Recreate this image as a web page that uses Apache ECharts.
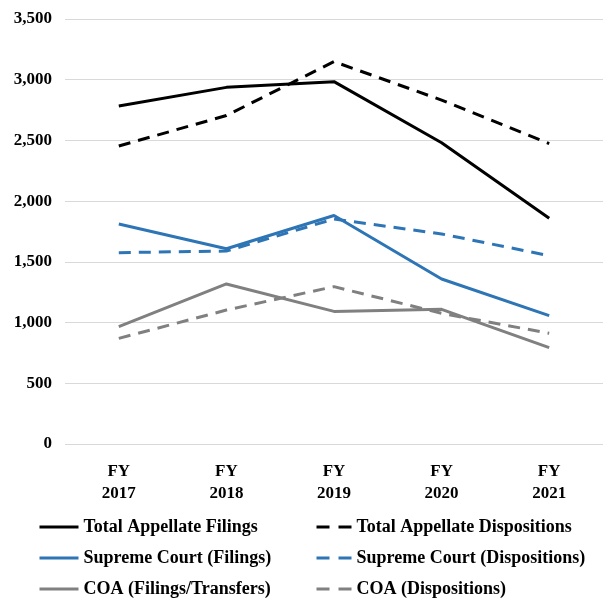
<!DOCTYPE html>
<html>
<head>
<meta charset="utf-8">
<script src="https://cdn.jsdelivr.net/npm/echarts@6/dist/echarts.min.js"></script>
<style>
  html, body { margin: 0; padding: 0; background: #fff; }
  #chart { width: 603px; height: 599px; }
</style>
</head>
<body>
<div id="chart"></div>
<script>
// categories and values
var years = ['FY\n2017', 'FY\n2018', 'FY\n2019', 'FY\n2020', 'FY\n2021'];
var totalFilings = [2783, 2937, 2984, 2481, 1859];
var totalDispositions = [2454, 2705, 3149, 2832, 2474];
var supremeFilings = [1812, 1608, 1882, 1359, 1057];
var supremeDispositions = [1576, 1589, 1853, 1730, 1551];
var coaFilings = [966, 1318, 1092, 1109, 793];
var coaDispositions = [870, 1103, 1296, 1076, 912];

var filingNames = ['Total Appellate Filings', 'Supreme Court (Filings)', 'COA (Filings/Transfers)'];
var dispositionNames = ['Total Appellate Dispositions', 'Supreme Court (Dispositions)', 'COA (Dispositions)'];

var FONT = '"Liberation Serif", "DejaVu Serif", serif';

function line(name, data, color, dashed) {
    return {
        name: name,
        type: 'line',
        data: data,
        symbol: 'none',
        lineStyle: {
            color: color,
            width: 3,
            type: dashed ? [12, 8] : 'solid'
        },
        itemStyle: { color: color }
    };
}

// one legend column
function legendColumn(left, names, iconWidth, dash) {
    return {
        orient: 'vertical',
        left: left,
        top: 518,
        height: 90,
        padding: 0,
        itemWidth: iconWidth,
        itemHeight: 3,
        itemGap: 13,
        itemStyle: { opacity: 0 },
        lineStyle: { width: 3, type: dash || 'solid' },
        textStyle: {
            fontFamily: FONT, fontWeight: 'bold', fontSize: 18, color: '#000'
        },
        data: names
    };
}

var option = {
    backgroundColor: '#fff',
    animation: false,
    grid: { left: 65, right: -6, top: 19, bottom: 155 },
    legend: [
        legendColumn(38, filingNames, 39, null),
        legendColumn(315, dispositionNames, 35, [13, 9])
    ],
    xAxis: {
        type: 'category',
        data: years,
        boundaryGap: true,
        axisLine: { show: false },
        axisTick: { show: false },
        axisLabel: {
            fontFamily: FONT, fontWeight: 'bold', fontSize: 17, color: '#000',
            lineHeight: 22, margin: 17
        }
    },
    yAxis: {
        type: 'value',
        min: 0,
        max: 3500,
        interval: 500,
        axisLine: { show: false },
        axisTick: { show: false },
        splitLine: { lineStyle: { color: '#d9d9d9', width: 1 } },
        axisLabel: {
            fontFamily: FONT, fontWeight: 'bold', fontSize: 17, color: '#000', margin: 13,
            formatter: function (v) { return v.toLocaleString('en-US'); }
        }
    },
    series: [
        line('Total Appellate Filings', totalFilings, '#000000', false),
        line('Total Appellate Dispositions', totalDispositions, '#000000', true),
        line('Supreme Court (Filings)', supremeFilings, '#2E75B6', false),
        line('Supreme Court (Dispositions)', supremeDispositions, '#2E75B6', true),
        line('COA (Filings/Transfers)', coaFilings, '#808080', false),
        line('COA (Dispositions)', coaDispositions, '#808080', true)
    ]
};

var chart = echarts.init(document.getElementById('chart'));
chart.setOption(option);
</script>
</body>
</html>
